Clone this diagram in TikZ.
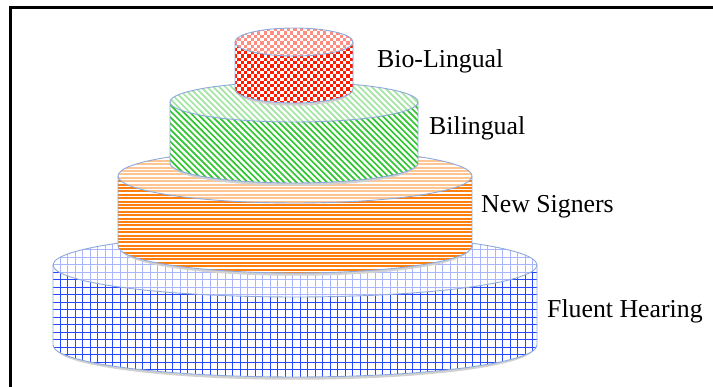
\documentclass[tikz,border=0pt]{standalone}
\usepackage{fontspec}
\setmainfont{Liberation Serif}
\definecolor{cred}{HTML}{FF1A00}
\definecolor{cgreen}{HTML}{33C633}
\definecolor{corange}{HTML}{FF7F0F}
\definecolor{cblue}{HTML}{2848FF}
\definecolor{cedge}{HTML}{8EA9DB}
% pattern drawers: #1 colour, #2 xl, #3 xr, #4 yl, #5 yh
\newcommand\patHlines[5]{%
  \pgfmathtruncatemacro\nn{(#5-#4)/3.4+1}%
  \foreach \i in {0,...,\nn} {\fill[#1] (#2,#4+\i*3.4) rectangle (#3,#4+\i*3.4+1.9);}}
\newcommand\patGrid[5]{%
  \pgfmathtruncatemacro\nn{(#5-#4)/7.5+1}%
  \pgfmathtruncatemacro\mm{(#3-#2)/7.5+1}%
  \foreach \i in {0,...,\nn} {\fill[#1] (#2,#4+\i*7.5) rectangle (#3,#4+\i*7.5+1.0);}
  \foreach \i in {0,...,\mm} {\fill[#1] (#2+\i*7.5,#4) rectangle (#2+\i*7.5+1.0,#5);}}
\newcommand\patDiag[5]{%
  \pgfmathsetmacro\hh{#5-#4}%
  \pgfmathtruncatemacro\nn{((#3-#2)+\hh)/6.1+1}%
  \foreach \i in {0,...,\nn} {\draw[#1,line width=1.7pt] (#2-\hh+\i*6.1,#5+1) -- ++(\hh+2,-\hh-2);}}
\newcommand\patCheck[5]{%
  \pgfmathtruncatemacro\nn{(#5-#4)/3.3+1}%
  \pgfmathtruncatemacro\mm{(#3-#2)/3.3+1}%
  \foreach \i in {0,...,\mm} {\foreach \j in {0,...,\nn} {%
    \pgfmathtruncatemacro\pp{mod(\i+\j,2)}%
    \ifnum\pp=0 \fill[#1] (#2+\i*3.3,#4+\j*3.3) rectangle ++(3.3,3.3);\fi}}}
% cylinder: #1 cx, #2 top y, #3 bottom y, #4 rx, #5 ry, #6 pattern drawer, #7 side colour, #8 top colour
\newcommand\drawcyl[8]{%
  \pgfmathsetmacro\cxl{#1-#4-1}\pgfmathsetmacro\cxr{#1+#4+1}%
  \pgfmathsetmacro\cyl{#3-#5-1}\pgfmathsetmacro\cyh{#2+#5+1}%
  \draw[shadowline] (#1-#4+3,#3-1.5) arc[start angle=180,end angle=360,x radius=#4-3,y radius=#5];
  \fill[white] (#1-#4,#2) -- (#1-#4,#3) arc[start angle=180,end angle=360,x radius=#4,y radius=#5] -- (#1+#4,#2) arc[start angle=0,end angle=180,x radius=#4,y radius=#5] -- cycle;
  \begin{scope}
    \clip (#1-#4,#2) -- (#1-#4,#3) arc[start angle=180,end angle=360,x radius=#4,y radius=#5] -- (#1+#4,#2) arc[start angle=0,end angle=-180,x radius=#4,y radius=#5] -- cycle;
    #6{#7}{\cxl}{\cxr}{\cyl}{\cyh}
  \end{scope}
  \begin{scope}
    \clip (#1,#2) ellipse[x radius=#4,y radius=#5];
    #6{#8}{\cxl}{\cxr}{\cyl}{\cyh}
  \end{scope}
  \draw[edge] (#1-#4,#2) -- (#1-#4,#3) arc[start angle=180,end angle=360,x radius=#4,y radius=#5] -- (#1+#4,#2);
  \draw[edge] (#1,#2) ellipse[x radius=#4,y radius=#5];
}
\tikzset{
  edge/.style={draw=cedge,line width=0.9pt},
  shadowline/.style={draw=black!18,line width=2.5pt},
  lbl/.style={anchor=base west,inner sep=0pt,font=\fontsize{25.8}{30}\selectfont},
  frameline/.style={line width=2.5pt,black}
}
\begin{document}
\begin{tikzpicture}[x=1pt,y=1pt]
\useasboundingbox (0,0) rectangle (713,387);
\draw[frameline] (10.5,0) -- (10.5,379.5) -- (713,379.5);
% Fluent Hearing (blue grid)
\drawcyl{295}{122}{42}{242}{32}{\patGrid}{cblue}{cblue!40}
% New Signers (orange horizontal lines)
\drawcyl{295}{211}{141}{177}{27}{\patHlines}{corange}{corange!45}
% Bilingual (green diagonal lines)
\drawcyl{294}{285}{224}{124}{20}{\patDiag}{cgreen}{cgreen!45}
% Bio-Lingual (red checkerboard)
\drawcyl{294}{345}{298}{59}{14}{\patCheck}{cred}{cred!50}
\node[lbl] (bio) at (377,319) {Bio-Lingual};
\node[lbl] (bil) at (429,252) {Bilingual};
\node[lbl] (new) at (481,174) {New Signers};
\node[lbl] (flu) at (547,69) {Fluent Hearing};
\end{tikzpicture}
\end{document}
